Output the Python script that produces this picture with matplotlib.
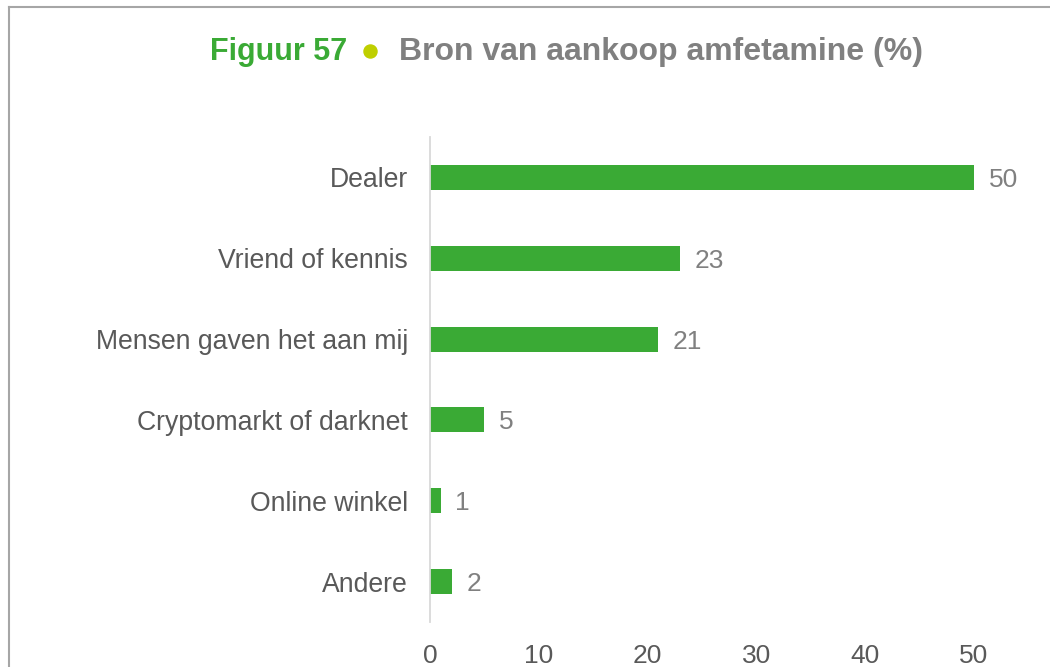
import matplotlib.pyplot as plt
from matplotlib.lines import Line2D

plt.rcParams['font.family'] = ['Liberation Sans', 'DejaVu Sans']

categories = ["Dealer", "Vriend of kennis", "Mensen gaven het aan mij",
              "Cryptomarkt of darknet", "Online winkel", "Andere"]
percentages = [50, 23, 21, 5, 1, 2]
xticks = [0, 10, 20, 30, 40, 50]

green = "#3aaa35"
W, H = 1050, 667
fig = plt.figure(figsize=(W / 100, H / 100), dpi=100)
ax = fig.add_axes([430 / W, 1 - 622 / H, (974 - 430) / W, (622 - 137) / H])

ypos = list(range(len(categories)))
ax.barh(ypos, percentages, height=0.31, color=green)
for y, v in zip(ypos, percentages):
    ax.annotate(str(v), (v, y), xytext=(10.5, 0), textcoords="offset points",
                ha="left", va="center_baseline", fontsize=19, color="#808080")

ax.set_ylim(len(categories) - 0.5, -0.5)
ax.set_yticks(ypos)
ax.set_yticklabels(categories)
ax.set_xlim(0, 50)
ax.set_xticks(xticks)

ax.tick_params(axis="y", length=0, pad=16, labelsize=19.2, labelcolor="#595959")
ax.tick_params(axis="x", length=0, pad=16, labelsize=19, labelcolor="#595959")
for side in ["top", "right", "bottom"]:
    ax.spines[side].set_visible(False)
ax.spines["left"].set_color("#d9d9d9")
ax.spines["left"].set_linewidth(1.3)

# title in three pieces: green figure number, bullet, grey caption
fig.text(210 / W, 1 - 60 / H, "Figuur 57", fontsize=22, fontweight="bold",
         color=green, va="baseline", ha="left")
fig.add_artist(Line2D([370 / W], [1 - 51 / H], marker="o", markersize=9.4,
                      color="#bfcf00", transform=fig.transFigure))
fig.text(399 / W, 1 - 60 / H, "Bron van aankoop amfetamine (%)", fontsize=23,
         fontweight="bold", color="#808080", va="baseline", ha="left")

# frame lines (top and left edges)
fig.add_artist(Line2D([8.5 / W, 1], [1 - 6.5 / H, 1 - 6.5 / H], color="#a6a6a6",
                      linewidth=1.5, transform=fig.transFigure))
fig.add_artist(Line2D([8.5 / W, 8.5 / W], [0, 1 - 6.5 / H], color="#a6a6a6",
                      linewidth=1.5, transform=fig.transFigure))

fig.savefig("out.png", dpi=100)
